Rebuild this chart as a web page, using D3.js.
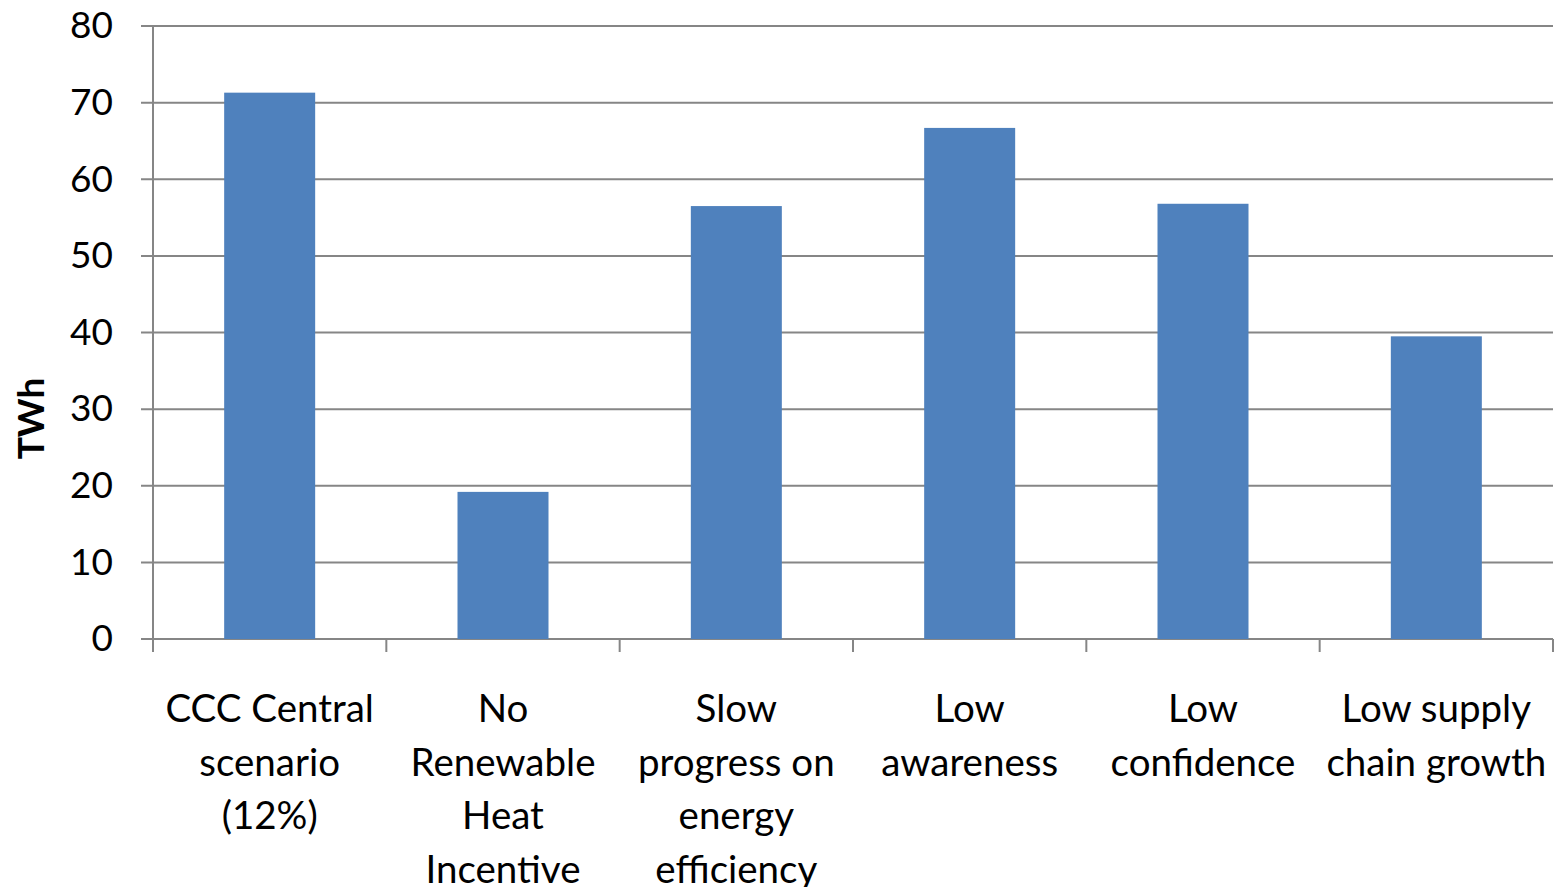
<!DOCTYPE html>
<html>
<head>
<meta charset="utf-8">
<script src="https://cdn.jsdelivr.net/npm/d3@7/dist/d3.min.js"></script>
<style>
  html, body { margin: 0; padding: 0; background: #fff; }
  svg { display: block; }
  text { font-family: Lato, "Open Sans", sans-serif; fill: #000; }
</style>
</head>
<body>
<svg id="chart" width="1557" height="887"></svg>
<script>
// Scenario names, one array entry per wrapped label line
const categories = [
  ["CCC Central", "scenario", "(12%)"],
  ["No", "Renewable", "Heat", "Incentive"],
  ["Slow", "progress on", "energy", "efficiency"],
  ["Low", "awareness"],
  ["Low", "confidence"],
  ["Low supply", "chain growth"]
];
const values = [71.3, 19.2, 56.5, 66.7, 56.8, 39.5];
const yTicks = [0, 10, 20, 30, 40, 50, 60, 70, 80];
const yLabel = "TWh";

const svg = d3.select("#chart");
const margin = { left: 153, right: 4, top: 26, bottom: 248 };
const W = 1557, H = 887;
const plotW = W - margin.left - margin.right;
const plotH = H - margin.top - margin.bottom;

const x = d3.scaleBand()
  .domain(d3.range(categories.length))
  .range([margin.left, margin.left + plotW])
  .paddingInner(0.61)
  .paddingOuter(0.305);

const y = d3.scaleLinear()
  .domain([0, 80])
  .range([margin.top + plotH, margin.top]);

const grid = "#868686";

// horizontal gridlines (extend past the axis as tick marks)
svg.append("g")
  .selectAll("line")
  .data(yTicks)
  .join("line")
  .attr("x1", margin.left - 12)
  .attr("x2", margin.left + plotW)
  .attr("y1", d => y(d))
  .attr("y2", d => y(d))
  .attr("stroke", grid)
  .attr("stroke-width", 2);

// bars
svg.append("g")
  .selectAll("rect")
  .data(values)
  .join("rect")
  .attr("x", (d, i) => x(i))
  .attr("width", x.bandwidth())
  .attr("y", d => y(d))
  .attr("height", d => y(0) - y(d))
  .attr("fill", "#4F81BD");

// y axis
const yAxis = d3.axisLeft(y)
  .tickValues(yTicks)
  .tickSize(12)
  .tickPadding(28)
  .tickFormat(d3.format("d"));
const yg = svg.append("g")
  .attr("transform", `translate(${margin.left},0)`)
  .call(yAxis);
yg.select(".domain").remove();
yg.selectAll(".tick line").remove();
yg.selectAll(".tick text")
  .attr("font-size", 37)
  .attr("font-family", "Lato, sans-serif")
  .attr("fill", "#000");

// vertical axis line
svg.append("line")
  .attr("x1", margin.left).attr("x2", margin.left)
  .attr("y1", y(80)).attr("y2", y(0) + 13)
  .attr("stroke", grid).attr("stroke-width", 2);

// category boundary ticks on the x axis
const edges = d3.range(categories.length + 1).map(i => margin.left + i * (plotW / categories.length));
svg.append("g")
  .selectAll("line")
  .data(edges)
  .join("line")
  .attr("x1", d => d).attr("x2", d => d)
  .attr("y1", y(0)).attr("y2", y(0) + 13)
  .attr("stroke", grid).attr("stroke-width", 2);

// category labels
const lineH = 53.5;
const lab = svg.append("g")
  .selectAll("text")
  .data(categories)
  .join("text")
  .attr("text-anchor", "middle")
  .attr("font-size", 38.5)
  .attr("transform", (d, i) => `translate(${x(i) + x.bandwidth() / 2},722)`);
lab.selectAll("tspan")
  .data(d => d)
  .join("tspan")
  .attr("x", 0)
  .attr("y", (d, j) => j * lineH)
  .text(d => d);

// y axis title
svg.append("text")
  .attr("transform", `translate(44,${y(40) + 86}) rotate(-90)`)
  .attr("text-anchor", "middle")
  .attr("font-size", 37)
  .attr("font-weight", "bold")
  .text(yLabel);
</script>
</body>
</html>
